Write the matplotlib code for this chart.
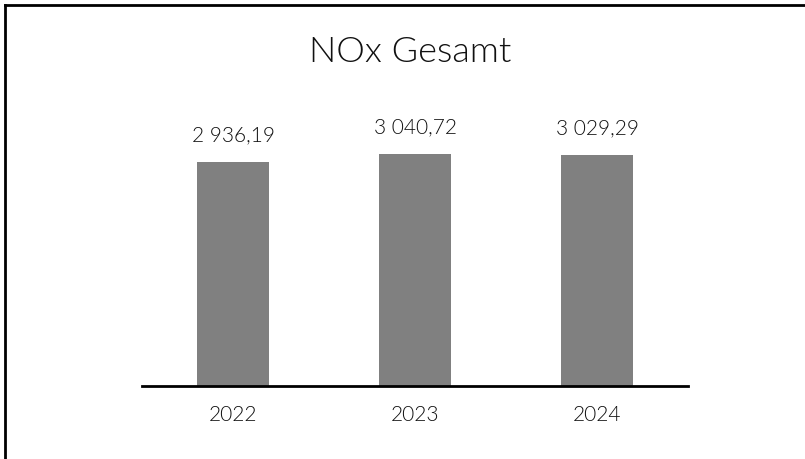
import matplotlib
matplotlib.use("Agg")
import matplotlib.pyplot as plt
from matplotlib.lines import Line2D

categories = ["2022", "2023", "2024"]
values = [2936.19, 3040.72, 3029.29]
labels = ["2 936,19", "3 040,72", "3 029,29"]
title = "NOx Gesamt"

plt.rcParams['font.family'] = ['Lato', 'DejaVu Sans']
W = 300

fig = plt.figure(figsize=(8.05, 4.59), dpi=100)
ax = fig.add_axes([142/805, 1-386/459, 546/805, (386-60)/459])
x = list(range(len(categories)))
ax.bar(x, values, width=0.4, color="#808080")
ax.set_xlim(-0.5, 2.5)
ax.set_ylim(0, (386-60)/0.0763)
for xi, v, l in zip(x, values, labels):
    ax.annotate(l, (xi, v), xytext=(0, 12), textcoords="offset points",
                ha="center", va="bottom", fontsize=15, color="#111111", fontweight=W)
ax.set_xticks(x)
ax.set_xticklabels(categories, fontsize=15, color="#111111", fontweight=W)
ax.tick_params(axis="x", length=0, pad=14)
ax.set_yticks([])
for s in ["top", "right", "left"]:
    ax.spines[s].set_visible(False)
ax.spines["bottom"].set_linewidth(2)
ax.spines["bottom"].set_color("black")
fig.text(410/805, 1-52/459, title, ha="center", va="center", fontsize=26, color="#111111", fontweight=W)

fig.add_artist(Line2D([5/805, 5/805], [0, 1-5/459], color="black", lw=2, transform=fig.transFigure))
fig.add_artist(Line2D([5/805, 1], [1-5/459, 1-5/459], color="black", lw=2, transform=fig.transFigure))

fig.savefig("out.png", dpi=100)
